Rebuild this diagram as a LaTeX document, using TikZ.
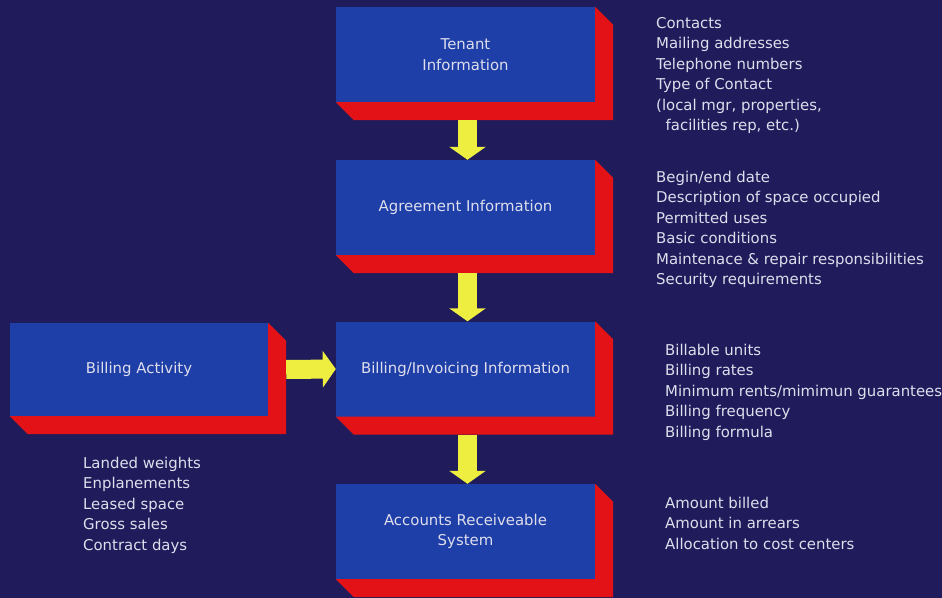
\documentclass[tikz,border=0pt]{standalone}
\usepackage{fontspec}
\setmainfont{DejaVu Sans}
\usetikzlibrary{arrows.meta,calc}
\definecolor{bg}{RGB}{32,28,92}
\definecolor{boxblue}{RGB}{30,62,168}
\definecolor{boxred}{RGB}{226,18,22}
\definecolor{arrowyellow}{RGB}{238,238,64}
\definecolor{txt}{RGB}{222,222,236}
\newcommand\myfont{\fontsize{14.9bp}{20.5bp}\selectfont}
\newcommand\extrude[1]{%
  \fill[boxred] (#1.north east) -- ($(#1.north east)+(18,18)$) -- ($(#1.south east)+(18,18)$)
     -- ($(#1.south west)+(18,18)$) -- (#1.south west) -- (#1.south east) -- cycle;}
\tikzset{
  box/.style={fill=boxblue, minimum width=259bp, minimum height=95bp, inner sep=0pt,
    text=txt, align=center, font=\myfont},
  listtext/.style={anchor=north west, inner sep=0pt, text=txt, align=left, font=\myfont},
  flow/.style={draw=arrowyellow, line width=19bp, -{Triangle[width=36bp,length=13bp]}}
}
\begin{document}
\begin{tikzpicture}[x=1bp,y=-1bp]
\fill[bg] (0,0) rectangle (942,598);
\useasboundingbox (0,0) rectangle (942,598);
% boxes
\node[box] (ten) at (465.5,54.5) {Tenant\\Information};
\node[box] (agr) at (465.5,207.5) {Agreement Information};
\node[box] (bil) at (465.5,369) {Billing/Invoicing Information};
\node[box] (acc) at (465.5,531.5) {Accounts Receiveable\\System};
\node[box, minimum width=258bp, minimum height=93bp] (act) at (139,369.5) {Billing Activity};
\extrude{ten}
\extrude{agr}
\extrude{bil}
\extrude{acc}
\extrude{act}
% arrows
\draw[flow] ([xshift=2bp,yshift=-18bp]ten.south) -- ([xshift=2bp]agr.north);
\draw[flow] ([xshift=2bp,yshift=-18bp]agr.south) -- ([xshift=2bp]bil.north);
\draw[flow] ([xshift=2bp,yshift=-18bp]bil.south) -- ([xshift=2bp]acc.north);
\draw[flow] ([xshift=18bp]act.east) -- (bil.west);
% lists
\node[listtext] (l1) at (656,13.6) {\strut Contacts\\Mailing addresses\\Telephone numbers\\Type of Contact\\(local mgr, properties,\\\ \ facilities rep, etc.)};
\node[listtext] (l2) at (656,167.6) {\strut Begin/end date\\Description of space occupied\\Permitted uses\\Basic conditions\\Maintenace \& repair responsibilities\\Security requirements};
\node[listtext] (l3) at (665,340.6) {\strut Billable units\\Billing rates\\Minimum rents/mimimun guarantees\\Billing frequency\\Billing formula};
\node[listtext] (l4) at (665,493.6) {\strut Amount billed\\Amount in arrears\\Allocation to cost centers};
\node[listtext] (l5) at (83,453.6) {\strut Landed weights\\Enplanements\\Leased space\\Gross sales\\Contract days};
\end{tikzpicture}
\end{document}
